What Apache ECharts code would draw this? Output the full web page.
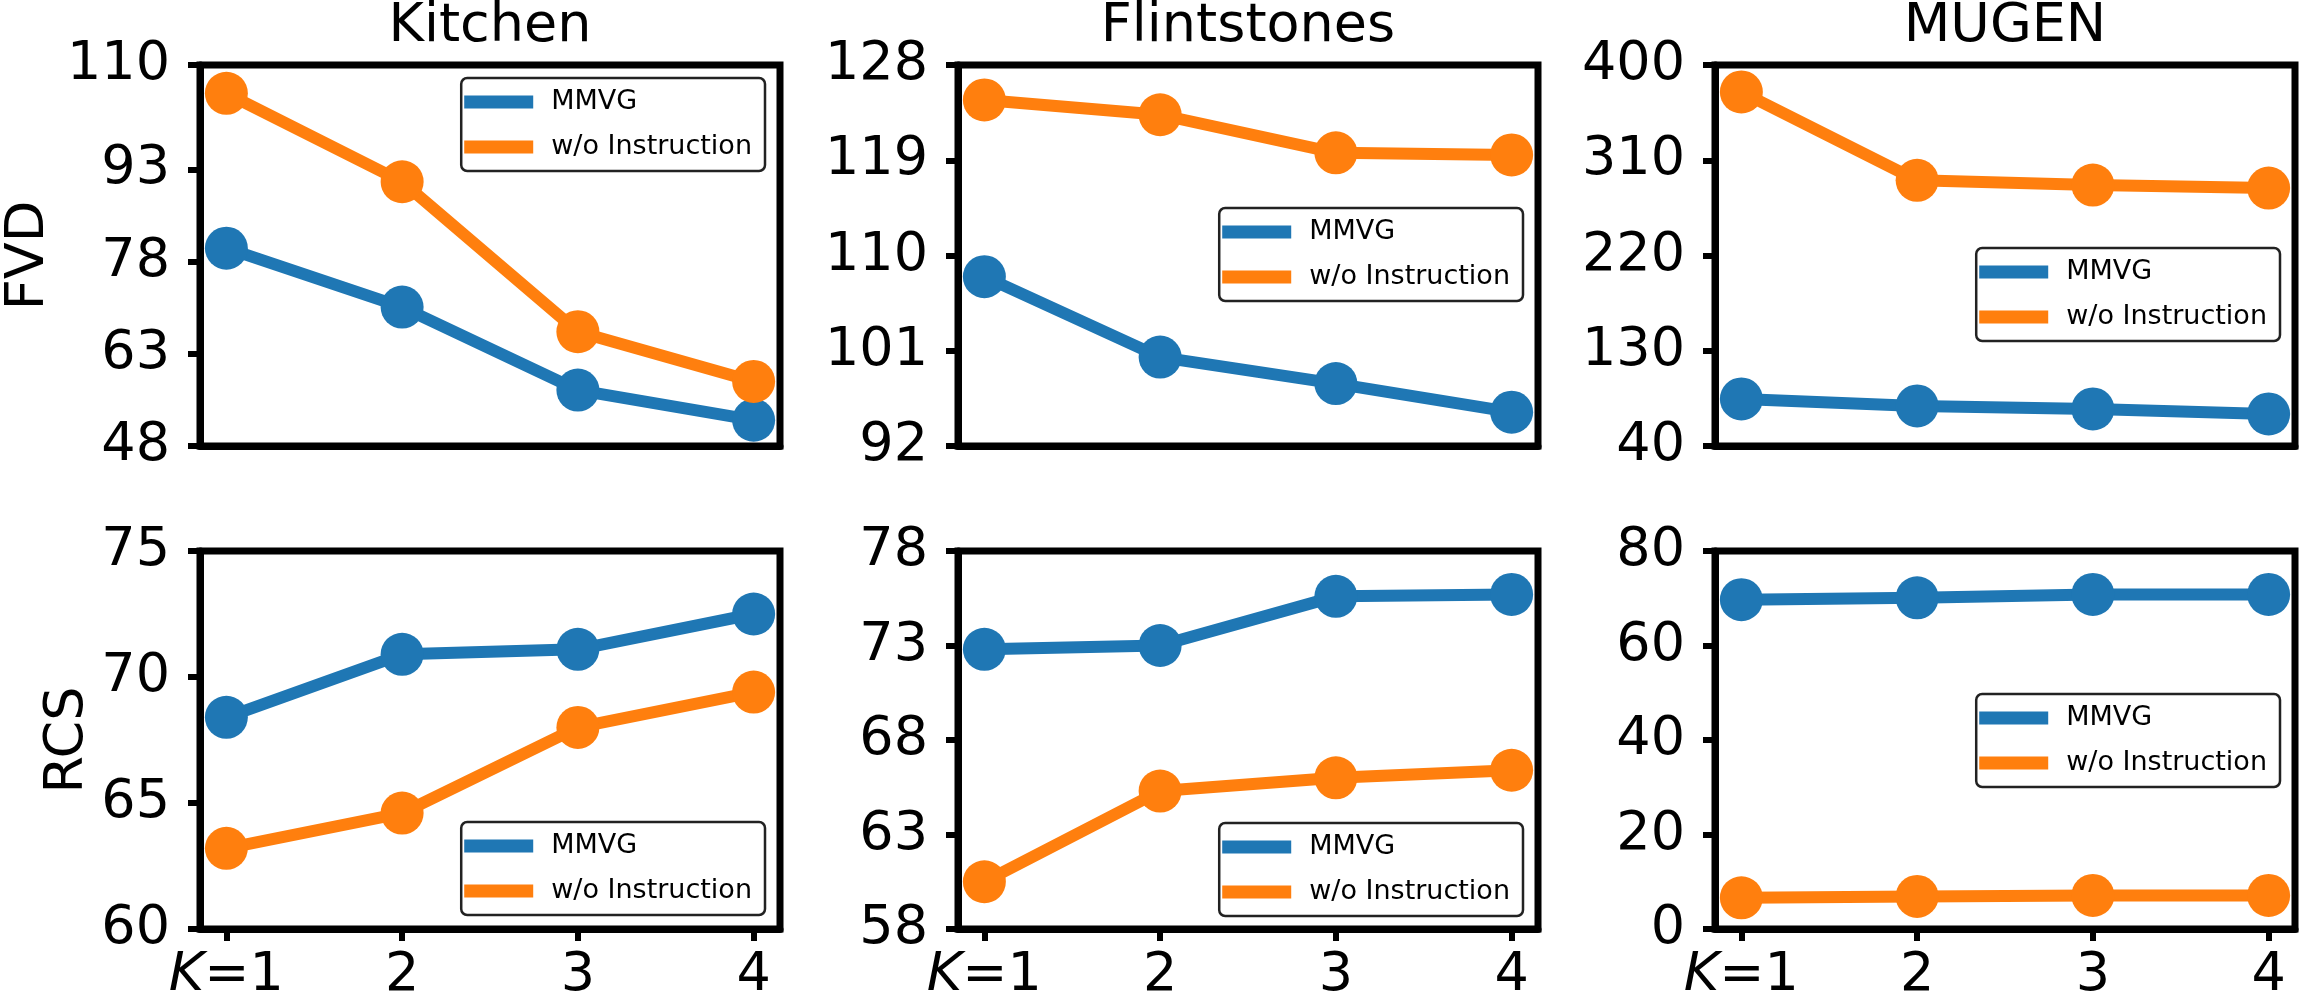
<!DOCTYPE html>
<html>
<head>
    <meta charset="utf-8">
    <title>MMVG vs w/o Instruction</title>
    <script type="text/javascript" src="https://cdn.jsdelivr.net/npm/echarts@6.0.0/dist/echarts.min.js"></script>
    <style>
        html, body { margin: 0; padding: 0; background: #fff; }
    </style>
</head>
<body>
    <div id="main" style="width:2300px; height:1003px;"></div>
    <script type="text/javascript">

    // K values on the x axis
    var kValues = [1, 2, 3, 4];

    // FVD (top row)
    var kitchenFvdMmvg = [80.2, 70.6, 57.1, 52.2];
    var kitchenFvdWo   = [105.4, 91.0, 66.6, 58.5];
    var flintFvdMmvg   = [108.0, 100.4, 97.9, 95.2];
    var flintFvdWo     = [124.7, 123.3, 119.7, 119.5];
    var mugenFvdMmvg   = [84.5, 77.9, 75.0, 70.3];
    var mugenFvdWo     = [374.5, 291.0, 286.6, 283.7];

    // RCS (bottom row)
    var kitchenRcsMmvg = [68.4, 70.9, 71.1, 72.5];
    var kitchenRcsWo   = [63.2, 64.6, 68.0, 69.4];
    var flintRcsMmvg   = [72.8, 73.0, 75.6, 75.7];
    var flintRcsWo     = [60.5, 65.3, 66.0, 66.4];
    var mugenRcsMmvg   = [69.7, 70.1, 70.8, 70.8];
    var mugenRcsWo     = [6.6, 6.9, 7.1, 7.1];

    // y tick labels
    var kitchenFvdTicks = [48, 63, 78, 93, 110];
    var flintFvdTicks   = [92, 101, 110, 119, 128];
    var mugenFvdTicks   = [40, 130, 220, 310, 400];
    var kitchenRcsTicks = [60, 65, 70, 75];
    var flintRcsTicks   = [58, 63, 68, 73, 78];
    var mugenRcsTicks   = [0, 20, 40, 60, 80];

    var datasetTitles = ['Kitchen', 'Flintstones', 'MUGEN'];
    var metricNames = ['FVD', 'RCS'];
    var seriesNames = ['MMVG', 'w/o Instruction'];

    var FONT = 'DejaVu Sans';
    var colors = ['#1f77b4', '#ff7f0e'];

    // layout of the 2x3 panels
    var colLeft = [200, 958, 1715];
    var rowTop = [65, 551];
    var W = 580, H = 381;

    var panels = [
        {row: 0, col: 0, ticks: kitchenFvdTicks, a: kitchenFvdMmvg, b: kitchenFvdWo, legendTop: 78},
        {row: 0, col: 1, ticks: flintFvdTicks,   a: flintFvdMmvg,   b: flintFvdWo,   legendTop: 208},
        {row: 0, col: 2, ticks: mugenFvdTicks,   a: mugenFvdMmvg,   b: mugenFvdWo,   legendTop: 248},
        {row: 1, col: 0, ticks: kitchenRcsTicks, a: kitchenRcsMmvg, b: kitchenRcsWo, legendTop: 822},
        {row: 1, col: 1, ticks: flintRcsTicks,   a: flintRcsMmvg,   b: flintRcsWo,   legendTop: 823},
        {row: 1, col: 2, ticks: mugenRcsTicks,   a: mugenRcsMmvg,   b: mugenRcsWo,   legendTop: 694}
    ];

    function pairs(vals) {
        return vals.map(function (v, i) { return [kValues[i], v]; });
    }

    var grids = [], xAxes = [], yAxes = [], series = [], legends = [], titles = [];

    panels.forEach(function (p, i) {
        var left = colLeft[p.col], top = rowTop[p.row];
        grids.push({
            left: left, top: top, width: W, height: H,
            show: true, borderColor: '#000', borderWidth: 7,
            backgroundColor: 'transparent', containLabel: false
        });
        var bottomRow = p.row === 1;
        xAxes.push({
            type: 'value', gridIndex: i,
            min: 0.85, max: 4.15,
            splitLine: {show: false},
            axisLine: {show: true, lineStyle: {color: '#000', width: 7}},
            axisTick: {show: bottomRow, length: 12, customValues: kValues,
                       lineStyle: {color: '#000', width: 6}},
            axisLabel: {
                show: bottomRow, customValues: kValues,
                fontSize: 54, fontFamily: FONT, color: '#000', margin: 20,
                formatter: function (v) { return v === 1 ? '{i|K}=1' : String(v); },
                rich: {i: {fontStyle: 'italic', fontSize: 54, fontFamily: FONT, color: '#000'}}
            }
        });
        var tk = p.ticks;
        yAxes.push({
            type: 'value', gridIndex: i,
            min: tk[0], max: tk[tk.length - 1],
            name: p.col === 0 ? metricNames[p.row] : '',
            nameLocation: 'middle', nameRotate: 90,
            nameGap: p.row === 0 ? 144 : 105,
            nameTextStyle: {fontSize: 54, fontFamily: FONT, color: '#000'},
            splitLine: {show: false},
            axisLine: {show: true, lineStyle: {color: '#000', width: 7}},
            axisTick: {show: true, length: 12, customValues: tk,
                       lineStyle: {color: '#000', width: 6}},
            axisLabel: {customValues: tk, fontSize: 54, fontFamily: FONT, color: '#000', margin: 30}
        });
        [p.a, p.b].forEach(function (vals, s) {
            series.push({
                name: seriesNames[s], type: 'line',
                xAxisIndex: i, yAxisIndex: i,
                data: pairs(vals),
                symbol: 'circle', symbolSize: 43,
                color: colors[s],
                lineStyle: {width: 12, color: colors[s]},
                itemStyle: {color: colors[s]},
                animation: false
            });
        });
        legends.push({
            orient: 'vertical',
            right: 2300 - (left + W - 15), top: p.legendTop,
            data: [{name: seriesNames[0], icon: 'rect'}, {name: seriesNames[1], icon: 'rect'}],
            itemWidth: 69, itemHeight: 13, itemGap: 13,
            padding: [8, 13, 8, 3],
            borderColor: '#222', borderWidth: 2.5, borderRadius: 6,
            backgroundColor: '#fff',
            selectedMode: false,
            textStyle: {fontSize: 27, fontFamily: FONT, color: '#000', lineHeight: 32, padding: [0, 0, 0, 13]}
        });
        if (p.row === 0) {
            titles.push({
                text: datasetTitles[p.col],
                left: left + W / 2, top: 0, textAlign: 'center', padding: 0,
                textStyle: {fontSize: 54, fontFamily: FONT, fontWeight: 'normal', color: '#000'}
            });
        }
    });

    var myChart = echarts.init(document.getElementById('main'));
    myChart.setOption({
        backgroundColor: '#fff',
        animation: false,
        title: titles,
        legend: legends,
        grid: grids,
        xAxis: xAxes,
        yAxis: yAxes,
        series: series
    });
    </script>
</body>
</html>
